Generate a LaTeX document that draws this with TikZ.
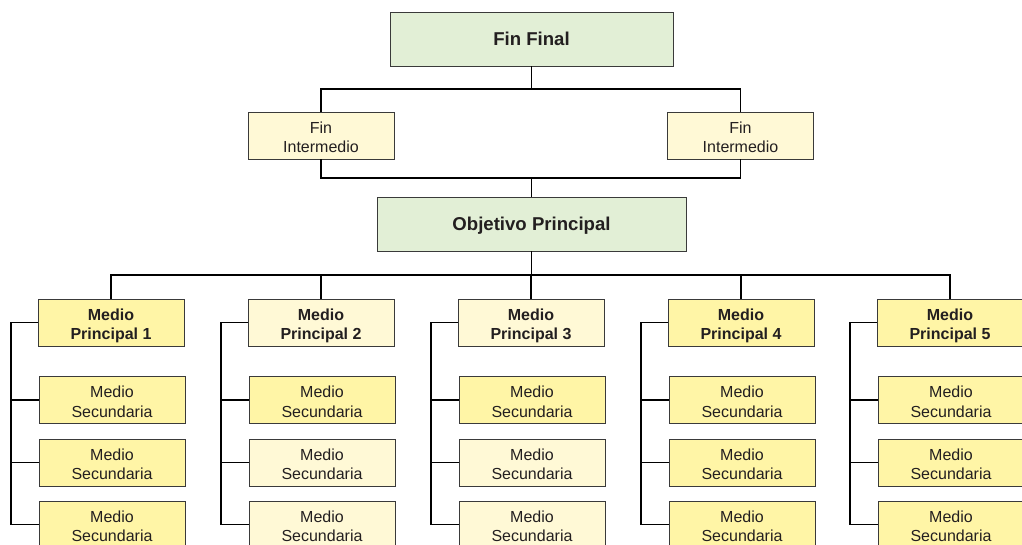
\documentclass[tikz,border=0pt]{standalone}
\usepackage{fontspec}
\setmainfont{Liberation Sans}
\definecolor{greenbox}{HTML}{E2EFD6}
\definecolor{yelldark}{HTML}{FFF5A6}
\definecolor{yelllight}{HTML}{FFF9D6}
\definecolor{boxline}{HTML}{3A3A3A}
\definecolor{txt}{HTML}{231F20}
\tikzset{
  basebox/.style={draw=boxline, line width=0.9pt, text=txt, align=center, inner sep=0pt, anchor=center},
  bigbox/.style={basebox, fill=greenbox, text depth=0pt, font=\fontsize{18.6}{22}\selectfont\bfseries},
  smallbox/.style={basebox, minimum width=146pt, minimum height=47pt, font=\fontsize{16}{19.5}\selectfont,
    text height=34pt, text depth=0pt},
  mainbox/.style={smallbox, font=\fontsize{16}{19.5}\selectfont\bfseries},
  dk/.style={fill=yelldark},
  lt/.style={fill=yelllight},
  conn/.style={draw=black, line width=1.3pt},
}
\begin{document}
\begin{tikzpicture}[x=1pt, y=-1pt]
\useasboundingbox (0,0) rectangle (1022,544);
\clip (0,0) rectangle (1022,544);
\fill[white] (0,0) rectangle (1022,544);

\node[bigbox, minimum width=283pt, minimum height=54pt] (ff) at (531.5,39) {Fin Final};
\node[smallbox, lt] (fi1) at (321,135.5) {Fin\\Intermedio};
\node[smallbox, lt] (fi2) at (740.5,135.5) {Fin\\Intermedio};
\node[bigbox, minimum width=309pt, minimum height=54pt] (op) at (531.5,224) {Objetivo Principal};

\coordinate (j1) at (531.5,89);
\coordinate (j2) at (531.5,178);
\coordinate (j3) at (531.5,275);

\draw[conn] (ff.south) -- (j1);
\draw[conn] (fi1.north) |- (j1) -| (fi2.north);
\draw[conn] (fi1.south) |- (j2) -| (fi2.south);
\draw[conn] (j2) -- (op.north);
\draw[conn] (op.south) -- (j3);

% columns
\foreach \i/\cx/\cm/\ca/\cb/\cc in {1/111/dk/dk/dk/dk, 2/321/lt/dk/lt/lt, 3/531/lt/dk/lt/lt, 4/741/dk/dk/dk/dk, 5/950/dk/dk/dk/dk}{
  \node[mainbox, \cm] (mp\i) at (\cx,322.5) {Medio\\Principal \i};
  \node[smallbox, \ca] (sa\i) at (\cx+1,400) {Medio\\Secundaria};
  \node[smallbox, \cb] (sb\i) at (\cx+1,462.5) {Medio\\Secundaria};
  \node[smallbox, \cc] (sc\i) at (\cx+1,524.5) {Medio\\Secundaria};
  \coordinate (br\i) at (\cx-100,524.5);
  \draw[conn] (mp\i.west) -| (br\i) -- (sc\i.west);
  \draw[conn] (sa\i.west) -- (sa\i.west -| br\i);
  \draw[conn] (sb\i.west) -- (sb\i.west -| br\i);
}
\draw[conn] (mp1.north) |- (j3) -| (mp5.north);
\draw[conn] (mp2.north) -- (mp2.north |- j3);
\draw[conn] (mp3.north) -- (mp3.north |- j3);
\draw[conn] (mp4.north) -- (mp4.north |- j3);
\end{tikzpicture}
\end{document}
